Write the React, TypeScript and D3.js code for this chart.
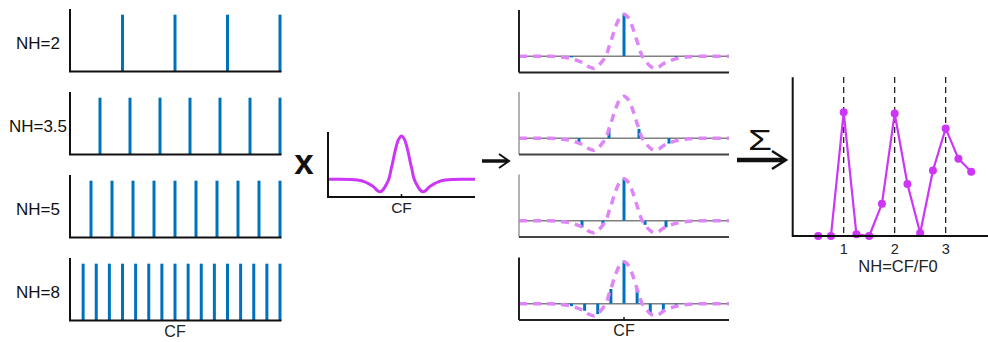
import React from 'react';
import * as d3 from 'd3';

// ---------- DATA ----------
const harmonicNumbers = [2, 3.5, 5, 8];
const harmonicLabels = ['NH=2', 'NH=3.5', 'NH=5', 'NH=8'];

// filter kernel: offset from CF (CF units) -> relative weight
const kernelOffsets = [0, 0.04, 0.08, 0.1, 0.125, 0.143, 0.16, 0.18, 0.2, 0.25, 0.29, 0.33, 0.375, 0.43, 0.5, 0.6, 0.7, 0.85, 1.0];
const kernelValues = [1, 0.92, 0.7, 0.55, 0.35, 0.22, 0.08, -0.03, -0.1, -0.24, -0.29, -0.26, -0.18, -0.12, -0.06, -0.02, -0.005, 0, 0];

// weighted harmonic amplitudes (stems in the middle column)
const weightedNH2 = [-0.03, 1, -0.03, 0];
const weightedNH35 = [0, -0.13, 0.22, 0.22, -0.13, 0, 0];
const weightedNH5 = [0, -0.01, -0.16, -0.1, 1, -0.1, -0.16, -0.01, 0, 0];
const weightedNH8 = [0, 0, -0.01, -0.06, -0.17, -0.25, 0.35, 1, 0.35, -0.25, -0.17, -0.06, -0.01, 0, 0, 0];
const weightedAll = [weightedNH2, weightedNH35, weightedNH5, weightedNH8];

// summed output vs NH
const sumNH = [0.5, 0.75, 1, 1.25, 1.5, 1.75, 2, 2.25, 2.5, 2.75, 3, 3.25, 3.5];
const sumValues = [0, 0, 1, 0.014, 0, 0.26, 0.99, 0.42, 0.024, 0.53, 0.87, 0.625, 0.52];
const sumTicks = [1, 2, 3];

// ---------- STYLE ----------
const BLUE = '#0072bd';
const PURPLE = '#cc36f7';
const PURPLE_LIGHT = '#de86f8';
const FONT = 'Liberation Sans, Arial, sans-serif';

const leftTops = [9, 92, 175, 258];
const midTops = [10, 92, 174.5, 257.5];
const PANEL_H = 62.5;

const harmonicsOf = (nh: number) => d3.range(1, Math.floor(nh * 2 + 1e-9) + 1).map((k) => k / nh);

// full kernel table (mirrored)
const kernelTable: [number, number][] = [
  ...kernelOffsets.slice(1).map((o, i) => [1 - o, kernelValues[i + 1]] as [number, number]).reverse(),
  ...kernelOffsets.map((o, i) => [1 + o, kernelValues[i]] as [number, number]),
];

export default function App() {
  const xLeft = d3.scaleLinear().domain([0, 2]).range([70, 280]);
  const xMid = d3.scaleLinear().domain([0, 2]).range([519, 729]);
  const xK = d3.scaleLinear().domain([0, 2]).range([328, 475]);
  const yK = d3.scaleLinear().domain([-0.41, 1.09]).range([197, 132]);
  const xS = d3.scaleLinear().domain([0, 3.83]).range([792.7, 988]);
  const yS = d3.scaleLinear().domain([0, 1.283]).range([236, 77.3]);

  const kernelLine = (xs: any, ys: any) =>
    d3.line<[number, number]>().x((d) => xs(d[0])).y((d) => ys(d[1])).curve(d3.curveCatmullRom.alpha(0.5))(kernelTable) || '';

  const sumLine = d3.line<number>().x((_, i) => xS(sumNH[i])).y((d) => yS(d))(sumValues) || '';

  return (
    <svg width={988} height={342} style={{ position: 'absolute', left: 0, top: 0, background: '#fff' }} fontFamily={FONT}>
      {/* LEFT COLUMN: harmonic spectra */}
      {harmonicNumbers.map((nh, p) => {
        const top = leftTops[p];
        const yL = d3.scaleLinear().domain([0, 1.1]).range([top + PANEL_H, top]);
        return (
          <g key={'l' + p}>
            {harmonicsOf(nh).map((h, i) => (
              <line key={i} x1={xLeft(h)} x2={xLeft(h)} y1={yL(0)} y2={yL(1)} stroke={BLUE} strokeWidth={3} />
            ))}
            <path d={`M${xLeft(0)},${top}V${yL(0)}H${xLeft(2) + 1.5}`} fill="none" stroke="#111" strokeWidth={2} />
            <text x={38} y={top + PANEL_H / 2 + 2.5} dy="0.35em" textAnchor="middle" fontSize={17} fill="#111">
              {harmonicLabels[p]}
            </text>
          </g>
        );
      })}
      <text x={xLeft(1)} y={336.5} textAnchor="middle" fontSize={16} fill="#222">CF</text>

      {/* multiply sign */}
      <text x={304} y={174} textAnchor="middle" fontSize={35} fontWeight="bold" fill="#111">x</text>

      {/* KERNEL */}
      <g>
        <path d={kernelLine(xK, yK)} fill="none" stroke={PURPLE} strokeWidth={3} />
        <path d={`M${xK(0)},132V197H475`} fill="none" stroke="#111" strokeWidth={2} />
        <line x1={xK(1)} x2={xK(1)} y1={197} y2={194} stroke="#111" strokeWidth={1.5} />
        <text x={xK(1)} y={213} textAnchor="middle" fontSize={15.5} fill="#222">CF</text>
      </g>

      {/* middle arrow */}
      <line x1={482} x2={508} y1={161} y2={161} stroke="#111" strokeWidth={3.5} />
      <polyline points="499,154 509,161 499,168" fill="none" stroke="#111" strokeWidth={2} />

      {/* MIDDLE COLUMN: weighted spectra */}
      {harmonicNumbers.map((nh, p) => {
        const top = midTops[p];
        const yM = d3.scaleLinear().domain([-0.39, 1.1]).range([top + PANEL_H, top]);
        const hs = harmonicsOf(nh);
        const light = p === 1 || p === 2;
        return (
          <g key={'m' + p}>
            <line x1={xMid(0)} x2={xMid(2)} y1={yM(0)} y2={yM(0)} stroke="#808080" strokeWidth={1.5} />
            {hs.map((h, i) => (
              <line key={i} x1={xMid(h)} x2={xMid(h)} y1={yM(0)} y2={yM(weightedAll[p][i])} stroke={BLUE} strokeWidth={3} />
            ))}
            <path d={kernelLine(xMid, yM)} fill="none" stroke={PURPLE_LIGHT} strokeWidth={3.5} strokeDasharray="8,6" />
            <line x1={xMid(0)} x2={xMid(0)} y1={top} y2={yM(-0.39)} stroke={light ? '#999' : '#222'} strokeWidth={light ? 1.5 : 2} />
            <line x1={xMid(0)} x2={xMid(2)} y1={yM(-0.39)} y2={yM(-0.39)} stroke={light ? '#444' : '#222'} strokeWidth={2} />
          </g>
        );
      })}
      <line x1={xMid(1)} x2={xMid(1)} y1={320} y2={317} stroke="#111" strokeWidth={1.5} />
      <text x={xMid(1)} y={336} textAnchor="middle" fontSize={16} fill="#222">CF</text>

      {/* sigma arrow */}
      <text x={760} y={150} textAnchor="middle" fontSize={30} fill="#111" textLength={24} lengthAdjust="spacingAndGlyphs">Σ</text>
      <line x1={737} x2={784} y1={160} y2={160} stroke="#111" strokeWidth={4.5} />
      <polyline points="772,151 786,160 772,169" fill="none" stroke="#111" strokeWidth={2.5} />

      {/* SUM PANEL */}
      <g>
        {sumTicks.map((t) => (
          <line key={t} x1={xS(t)} x2={xS(t)} y1={77} y2={236} stroke="#111" strokeWidth={1.2} strokeDasharray="6,4" />
        ))}
        <path d={sumLine} fill="none" stroke={PURPLE} strokeWidth={2.2} />
        {sumValues.map((v, i) => (
          <circle key={i} cx={xS(sumNH[i])} cy={yS(v)} r={4} fill={PURPLE} />
        ))}
        <path d={`M${xS(0)},77.3V236H988`} fill="none" stroke="#111" strokeWidth={2} />
        {sumTicks.map((t) => (
          <text key={t} x={xS(t)} y={254} textAnchor="middle" fontSize={14.5} fill="#222">{t}</text>
        ))}
        <text x={898} y={271.5} textAnchor="middle" fontSize={16.5} fill="#222">NH=CF/F0</text>
      </g>
    </svg>
  );
}
